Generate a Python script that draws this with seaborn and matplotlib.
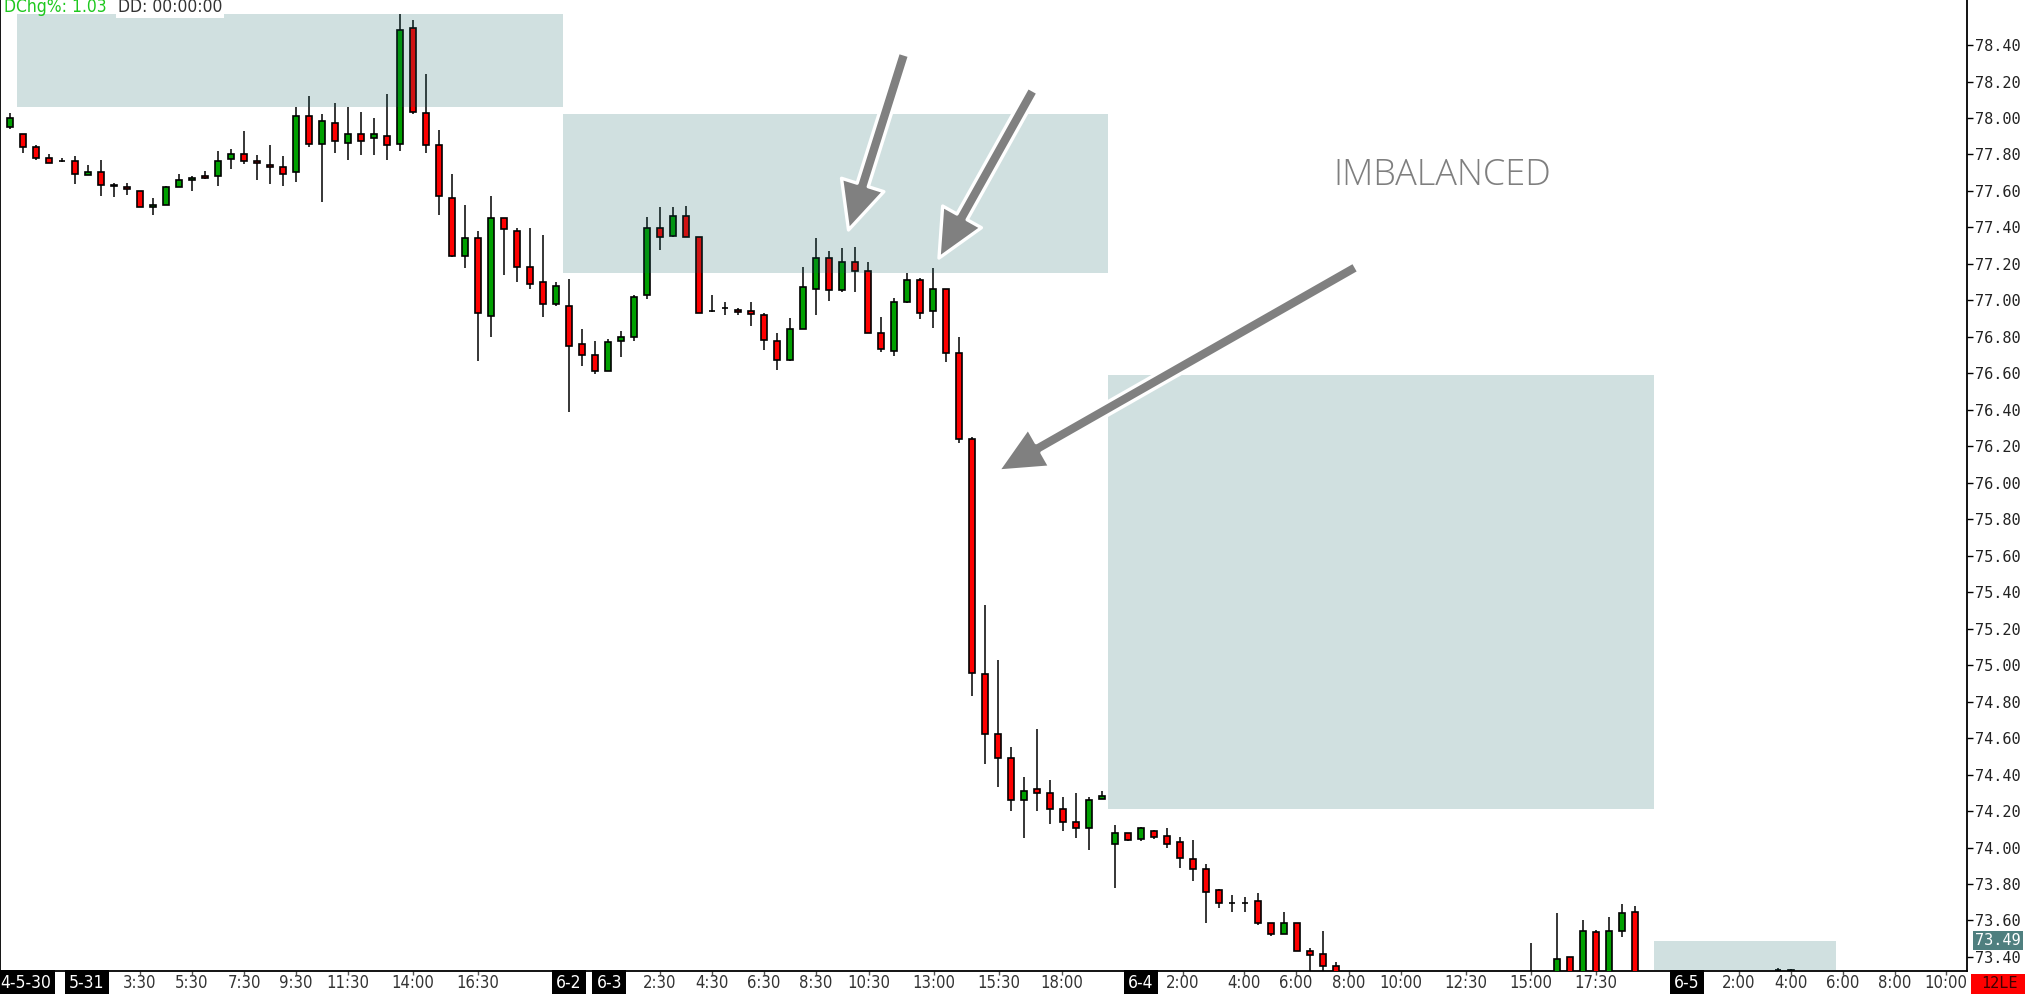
import numpy as np
import matplotlib
matplotlib.use("Agg")
import matplotlib.pyplot as plt
import seaborn as sns
from matplotlib import font_manager
from matplotlib.patches import Rectangle

nan = np.nan

# 30 minute candles, bar index 0 = first bar at the left edge
opens = [77.95, 77.91, 77.84, 77.78, 77.765, 77.765, 77.685, 77.705, 77.635, 77.62,
         77.60, 77.51, 77.525, 77.62, 77.66, 77.68, 77.68, 77.775, 77.805, 77.765,
         77.745, 77.73, 77.705, 78.01, 77.855, 77.975, 77.865, 77.91, 77.89, 77.90,
         77.855, 78.495, 78.025, 77.85, 77.56, 77.245, 77.34, 76.915, 77.45, 77.38,
         77.185, 77.10, 76.98, 76.97, 76.76, 76.70, 76.615, 76.775, 76.80, 77.03,
         77.395, 77.355, 77.465, 77.345, 76.944, 76.958, 76.946, 76.94, 76.92, 76.775,
         76.675, 76.845, 77.065, 77.235, 77.055, 77.21, 77.16, 76.82, 76.725, 76.99,
         77.11, 76.94, 77.065, 76.71, 76.24, 74.95, 74.625, 74.49, 74.26, 74.32,
         74.30, 74.21, 74.14, 74.105, 74.265, 74.02, 74.08, 74.045, 74.09, 74.065,
         74.03, 73.935, 73.885, 73.765, 73.695, 73.695, 73.705, 73.585, 73.525, 73.585,
         73.435, 73.415, 73.35] + [nan] * 14 + [73.25, nan, 73.22, 73.40, 73.25, 73.535,
         73.26, 73.545, 73.645] + [nan] * 10 + [73.33, 73.33]
highs = [78.025, 77.915, 77.85, 77.805, 77.78, 77.79, 77.745, 77.77, 77.645, 77.645,
         77.60, 77.56, 77.625, 77.695, 77.68, 77.71, 77.82, 77.83, 77.93, 77.795,
         77.85, 77.79, 78.06, 78.12, 78.02, 78.08, 78.06, 78.035, 78.00, 78.13,
         78.57, 78.535, 78.24, 77.935, 77.695, 77.525, 77.38, 77.575, 77.45, 77.395,
         77.395, 77.36, 77.10, 77.115, 76.845, 76.775, 76.79, 76.83, 77.03, 77.455,
         77.51, 77.51, 77.515, 77.345, 77.03, 76.99, 76.96, 76.99, 76.93, 76.82,
         76.905, 77.185, 77.34, 77.27, 77.285, 77.295, 77.21, 76.91, 77.015, 77.15,
         77.125, 77.175, 77.065, 76.80, 76.25, 75.33, 75.03, 74.55, 74.385, 74.65,
         74.37, 74.275, 74.30, 74.275, 74.31, 74.125, 74.08, 74.115, 74.095, 74.105,
         74.055, 74.04, 73.91, 73.775, 73.74, 73.73, 73.75, 73.585, 73.645, 73.585,
         73.45, 73.545, 73.375] + [nan] * 14 + [73.475, nan, 73.64, 73.40, 73.60, 73.55,
         73.62, 73.69, 73.68] + [nan] * 10 + [73.34, 73.335]
lows = [77.94, 77.81, 77.77, 77.755, 77.76, 77.64, 77.685, 77.575, 77.565, 77.58,
        77.51, 77.47, 77.525, 77.62, 77.60, 77.665, 77.625, 77.72, 77.75, 77.66,
        77.64, 77.625, 77.65, 77.84, 77.54, 77.81, 77.77, 77.795, 77.795, 77.77,
        77.82, 78.02, 77.81, 77.47, 77.24, 77.18, 76.67, 76.80, 77.14, 77.10,
        77.06, 76.91, 76.97, 76.39, 76.64, 76.595, 76.615, 76.69, 76.78, 77.01,
        77.275, 77.345, 77.345, 76.93, 76.935, 76.92, 76.92, 76.86, 76.73, 76.62,
        76.67, 76.845, 76.92, 76.995, 77.045, 77.045, 76.82, 76.715, 76.695, 76.985,
        76.90, 76.85, 76.66, 76.22, 74.83, 74.46, 74.33, 74.20, 74.05, 74.20,
        74.13, 74.09, 74.05, 73.985, 74.265, 73.78, 74.035, 74.035, 74.045, 74.00,
        73.89, 73.815, 73.585, 73.67, 73.645, 73.645, 73.575, 73.515, 73.525, 73.43,
        73.28, 73.28, 73.15] + [nan] * 14 + [73.10, nan, 73.20, 73.20, 73.22, 73.20,
        73.24, 73.51, 73.20] + [nan] * 10 + [73.30, 73.30]
closes = [78.00, 77.84, 77.78, 77.755, 77.765, 77.695, 77.705, 77.635, 77.625, 77.61,
          77.51, 77.525, 77.62, 77.66, 77.67, 77.67, 77.765, 77.805, 77.765, 77.755,
          77.73, 77.695, 78.01, 77.855, 77.985, 77.875, 77.91, 77.875, 77.91, 77.85,
          78.485, 78.035, 77.85, 77.57, 77.245, 77.34, 76.93, 77.45, 77.39, 77.185,
          77.09, 76.98, 77.08, 76.75, 76.70, 76.615, 76.77, 76.80, 77.02, 77.395,
          77.345, 77.465, 77.345, 76.93, 76.94, 76.958, 76.938, 76.927, 76.785, 76.675,
          76.845, 77.075, 77.235, 77.055, 77.21, 77.16, 76.82, 76.735, 76.99, 77.11,
          76.93, 77.065, 76.71, 76.24, 74.955, 74.625, 74.49, 74.26, 74.31, 74.30,
          74.21, 74.14, 74.105, 74.26, 74.285, 74.08, 74.04, 74.105, 74.055, 74.02,
          73.945, 73.885, 73.755, 73.695, 73.695, 73.695, 73.585, 73.525, 73.585, 73.435,
          73.41, 73.35, 73.22] + [nan] * 14 + [73.20, nan, 73.39, 73.25, 73.545, 73.26,
          73.545, 73.64, 73.25] + [nan] * 10 + [73.33, 73.325]

# time axis labels (bar position, text); date markers get a black box
x_tick_pos = [-0.77, 5.9, 10, 14, 18, 22, 26, 31, 36, 43, 46.1, 50, 54, 58, 62, 66.1, 71.1,
              76.1, 80.9, 87, 90.2, 94.9, 98.9, 103, 107, 112, 117, 122, 129, 133, 137,
              141, 145, 148.9]
x_tick_txt = ["4-5-30", "5-31", "3:30", "5:30", "7:30", "9:30", "11:30", "14:00", "16:30",
              "6-2", "6-3", "2:30", "4:30", "6:30", "8:30", "10:30", "13:00", "15:30",
              "18:00", "6-4", "2:00", "4:00", "6:00", "8:00", "10:00", "12:30", "15:00",
              "17:30", "6-5", "2:00", "4:00", "6:00", "8:00", "10:00"]
date_marks = ["4-5-30", "5-31", "6-2", "6-3", "6-4", "6-5"]

y_ticks = [73.4, 73.6, 73.8, 74.0, 74.2, 74.4, 74.6, 74.8, 75.0, 75.2, 75.4, 75.6, 75.8,
           76.0, 76.2, 76.4, 76.6, 76.8, 77.0, 77.2, 77.4, 77.6, 77.8, 78.0, 78.2, 78.4]

# shaded zones (bar range and price range)
zone_x0 = [0.54, 42.5, 84.5, 126.5]
zone_x1 = [42.5, 84.5, 126.5, 140.5]
zone_lo = [78.06, 77.15, 74.21, 73.33]
zone_hi = [78.57, 78.02, 76.59, 73.485]

# arrows (tail -> tip) and note
arrow_tail = [(68.77, 78.351), (78.69, 78.153), (103.54, 77.183)]
arrow_tip = [(64.5, 77.386), (71.46, 77.232), (76.0, 76.064)]
note_text = "IMBALANCED"
note_pos = (110.2, 77.682)

last_price = 73.49

sns.set_style("white")

names = {f.name for f in font_manager.fontManager.ttflist}
narrow = "Liberation Sans Narrow" if "Liberation Sans Narrow" in names else "DejaVu Sans"
light = "Open Sans" if "Open Sans" in names else "DejaVu Sans"
plt.rcParams["font.family"] = [narrow, "DejaVu Sans"]

fig = plt.figure(figsize=(20.25, 9.94), dpi=100)
W, H = 2025, 994
ax = fig.add_axes([0, 23 / H, 1967 / W, 971 / H])

o = np.array(opens)
h = np.array(highs)
l = np.array(lows)
c = np.array(closes)
x = np.arange(len(o))
ok = ~np.isnan(o)

green = "#00a000"
red = "#ff0000"
cols = np.where(c > o, green, np.where(c < o, red, "black"))

ax.vlines(x[ok], l[ok], h[ok], color="black", linewidth=1.1, zorder=2)
ax.bar(x[ok], (c - o)[ok], bottom=o[ok], width=0.46, color=cols[ok],
       edgecolor="black", linewidth=1.2, zorder=3)

for x0, x1, lo, hi in zip(zone_x0, zone_x1, zone_lo, zone_hi):
    ax.add_patch(Rectangle((x0, lo), x1 - x0, hi - lo, facecolor=(20 / 255, 100 / 255, 100 / 255),
                           alpha=0.2, edgecolor="none", zorder=4))

for tail, tip in zip(arrow_tail, arrow_tip):
    ax.annotate("", xy=tip, xytext=tail, zorder=6,
                arrowprops=dict(arrowstyle="simple,head_length=1.7,head_width=1.6,tail_width=0.42",
                                mutation_scale=20, fc="#808080", ec="white", lw=2.4,
                                shrinkA=0, shrinkB=0))

ax.text(note_pos[0], note_pos[1], note_text, fontsize=26, color="#7f7f7f",
        family=light, fontweight="light", ha="center", va="center", zorder=6)

ax.set_xlim(-0.77, 150.54)
ax.set_ylim(73.323, 78.647)

# right price axis
ax.yaxis.tick_right()
ax.set_yticks(y_ticks)
ax.set_yticklabels([f"{v:.2f}" for v in y_ticks], family="DejaVu Sans Mono")
ax.tick_params(axis="y", which="major", right=True, left=False, length=4, width=1,
               pad=2, labelsize=11, labelcolor="#222222", color="black")

ax.set_xticks(x_tick_pos[1:])
ax.tick_params(axis="x", which="major", bottom=True, length=3, width=1,
               color="#555555", labelbottom=False)
for pos, txt in zip(x_tick_pos, x_tick_txt):
    if txt in date_marks:
        ax.text(pos, -12 / 971, txt, transform=ax.get_xaxis_transform(),
                ha="left" if pos < 0 else "center", va="center", fontsize=12.5,
                color="white", fontstretch="condensed", clip_on=False,
                bbox=dict(boxstyle="square,pad=0.25", fc="black", ec="none"))
    else:
        ax.text(pos, -12 / 971, txt, transform=ax.get_xaxis_transform(),
                ha="center", va="center", fontsize=12, color="#333333",
                fontstretch="condensed", clip_on=False)

for side in ["left", "right", "bottom"]:
    ax.spines[side].set_visible(True)
    ax.spines[side].set_color("black")
    ax.spines[side].set_linewidth(1.3)
ax.spines["top"].set_visible(False)

# last price tag
ax.text(1 + 8 / 1967, last_price, f"{last_price:.2f}", transform=ax.get_yaxis_transform(),
        ha="left", va="center", fontsize=11, color="white", family="DejaVu Sans Mono",
        clip_on=False, bbox=dict(boxstyle="square,pad=0.15", fc="#4f7f7f", ec="none"))

# bottom right marker box
fig.patches.append(Rectangle((1971 / W, 0), 54 / W, 20 / H, transform=fig.transFigure,
                             facecolor="#ff0000", edgecolor="none", zorder=1))
fig.text(1999 / W, 10 / H, "12LE", ha="center", va="center", fontsize=11,
         color="#400000", family="DejaVu Sans Mono")

# top left readouts
fig.text(4 / W, 1 - 12 / H, "DChg%: 1.03", ha="left", va="baseline", fontsize=12.5,
         color="#1ec81e", fontstretch="condensed")
fig.text(118 / W, 1 - 12 / H, "DD: 00:00:00", ha="left", va="baseline", fontsize=12.5,
         color="#333333", fontstretch="condensed",
         bbox=dict(boxstyle="square,pad=0.1", fc="white", ec="none"))

fig.savefig("out.png", dpi=100)
